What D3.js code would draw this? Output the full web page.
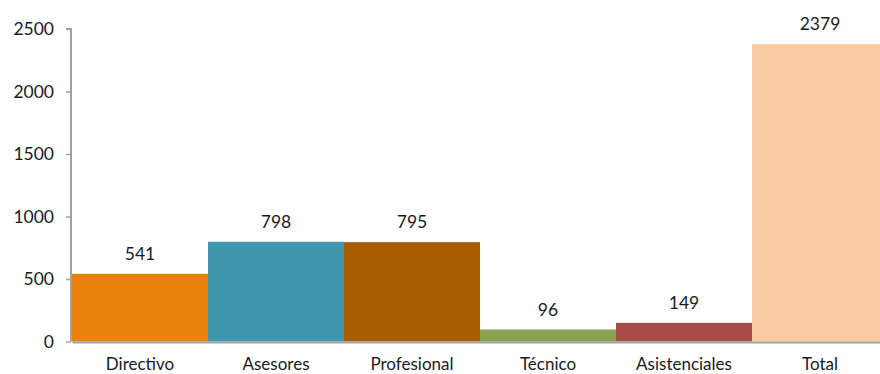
<!DOCTYPE html>
<html><head><meta charset="utf-8">
<script src="https://cdn.jsdelivr.net/npm/d3@7/dist/d3.min.js"></script>
<style>body{margin:0;background:#fff}svg{display:block}</style>
</head><body>
<svg id="c" width="880" height="374"></svg>
<script>
const categories = ["Directivo","Asesores","Profesional","Técnico","Asistenciales","Total"];
const values = [541, 798, 795, 96, 149, 2379];
const colors = ["#E8820A","#3E97AE","#A95C00","#8CA252","#A64B46","#FACBA3"];
const yTicks = [0,500,1000,1500,2000,2500];

const svg = d3.select("#c");
const font = "Lato, 'Open Sans', sans-serif";
const x = d3.scaleBand().domain(categories).range([72, 888]).padding(0);
const y = d3.scaleLinear().domain([0, 2500]).range([341.5, 29]);

svg.selectAll("rect.bar").data(values).join("rect")
  .attr("class","bar")
  .attr("x",(d,i)=>x(categories[i]))
  .attr("width",x.bandwidth())
  .attr("y",d=>y(d))
  .attr("height",d=>y(0)-y(d))
  .attr("fill",(d,i)=>colors[i]);

svg.selectAll("text.val").data(values).join("text")
  .attr("class","val")
  .attr("x",(d,i)=>x(categories[i])+x.bandwidth()/2)
  .attr("y",d=>y(d)-14)
  .attr("text-anchor","middle")
  .attr("font-family",font).attr("font-size",17.5).attr("fill","#1a1a1a")
  .text(d=>d);

const ya = svg.append("g").attr("transform","translate(71,0)")
  .call(d3.axisLeft(y).tickValues(yTicks).tickSize(5).tickPadding(12).tickFormat(d3.format("d")));
ya.select(".domain").attr("stroke","#A0A0A0").attr("stroke-width",2).attr("d","M-5,"+y(2500)+"H0V"+y(0));
ya.selectAll(".tick line").attr("stroke","#A0A0A0").attr("stroke-width",1.5);
ya.selectAll(".tick text").attr("font-family",font).attr("font-size",17.5).attr("fill","#1a1a1a");

const xa = svg.append("g").attr("transform","translate(0,"+(y(0)+0.5)+")")
  .call(d3.axisBottom(x).tickSize(0).tickPadding(16));
xa.select(".domain").attr("stroke","#A0A0A0").attr("stroke-width",2);
xa.selectAll(".tick text").attr("font-family",font).attr("font-size",17).attr("fill","#1a1a1a");
</script>
</body></html>
